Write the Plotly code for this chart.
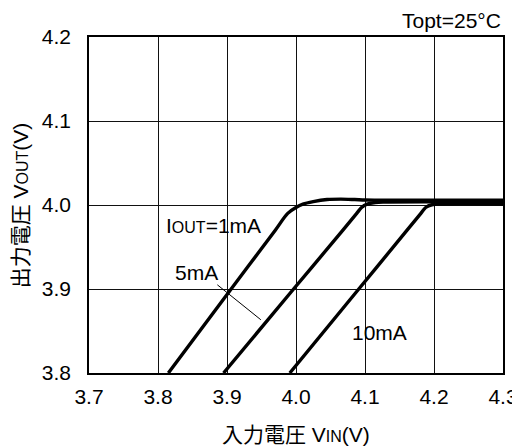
import plotly.graph_objects as go

# Data (VIN in V, VOUT in V)
vin_1mA = [3.815, 3.906, 3.970, 3.988, 4.000, 4.010, 4.025, 4.045, 4.065, 4.085, 4.100, 4.120, 4.300]
vout_1mA = [3.800, 3.900, 3.970, 3.990, 3.997, 4.001, 4.004, 4.0065, 4.007, 4.0065, 4.006, 4.0058, 4.0058]

vin_5mA = [3.895, 3.9965, 4.068, 4.088, 4.095, 4.103, 4.115, 4.130, 4.300]
vout_5mA = [3.800, 3.900, 3.970, 3.990, 3.997, 4.001, 4.003, 4.0035, 4.0035]

vin_10mA = [3.991, 4.091, 4.161, 4.181, 4.188, 4.197, 4.210, 4.300]
vout_10mA = [3.800, 3.900, 3.970, 3.990, 3.997, 4.0003, 4.0012, 4.0012]

x_ticks = [3.7, 3.8, 3.9, 4.0, 4.1, 4.2, 4.3]
x_tick_labels = ["3.7", "3.8", "3.9", "4.0", "4.1", "4.2", "4.3"]
y_ticks = [3.8, 3.9, 4.0, 4.1, 4.2]
y_tick_labels = ["3.8", "3.9", "4.0", "4.1", "4.2"]

FONT = "Liberation Sans, Arial, Noto Sans CJK JP, sans-serif"

fig = go.Figure()
for xs, ys in [(vin_1mA, vout_1mA), (vin_5mA, vout_5mA), (vin_10mA, vout_10mA)]:
    fig.add_trace(go.Scatter(x=xs, y=ys, mode="lines",
                             line=dict(color="black", width=3.4, shape="spline", smoothing=0.9),
                             showlegend=False, hoverinfo="skip"))

axis_common = dict(showgrid=True, gridcolor="#111", gridwidth=1.2,
                   showline=True, linecolor="black", linewidth=1.5, mirror=True,
                   zeroline=False, ticks="outside", tickcolor="rgba(0,0,0,0)",
                   tickfont=dict(size=21), automargin=False)

# The page body adds an 8px margin, so the figure is sized/offset to compensate.
fig.update_layout(
    width=512, height=440,
    margin=dict(l=81, r=17, t=29, b=75),
    paper_bgcolor="white", plot_bgcolor="white",
    font=dict(family=FONT, size=21, color="black"),
    xaxis=dict(range=[3.7, 4.3], tickvals=x_ticks, ticktext=x_tick_labels,
               ticklen=4, **axis_common),
    yaxis=dict(range=[3.8, 4.2], tickvals=y_ticks, ticktext=y_tick_labels,
               ticklen=12, **axis_common),
    annotations=[
        dict(text="入力電圧 V<span style='font-size:16px'>IN</span>(V)", xref="paper", yref="paper",
             x=0.5, y=-0.183, xanchor="center", yanchor="middle", showarrow=False,
             font=dict(size=21)),
        dict(text="出力電圧 V<span style='font-size:16px'>OUT</span>(V)", xref="paper", yref="paper",
             x=-0.166, y=0.5, xanchor="center", yanchor="middle", showarrow=False,
             textangle=-90, font=dict(size=21)),
        dict(text="Topt=25°C", xref="paper", yref="paper", x=1.0, y=1.05,
             xanchor="right", yanchor="middle", showarrow=False, font=dict(size=21)),
        dict(text="I<span style='font-size:16px'>OUT</span>=1mA", x=3.809, y=3.9754,
             xanchor="left", yanchor="middle", showarrow=False, font=dict(size=21)),
        dict(text="5mA", x=3.8217, y=3.9198, xanchor="left", yanchor="middle",
             showarrow=False, font=dict(size=21)),
        dict(text="10mA", x=4.0787, y=3.8483, xanchor="left", yanchor="middle",
             showarrow=False, font=dict(size=21)),
    ],
    shapes=[dict(type="line", x0=3.886, y0=3.905, x1=3.949, y1=3.8634,
                 line=dict(color="black", width=1))],
)

fig.write_html("out.html")
